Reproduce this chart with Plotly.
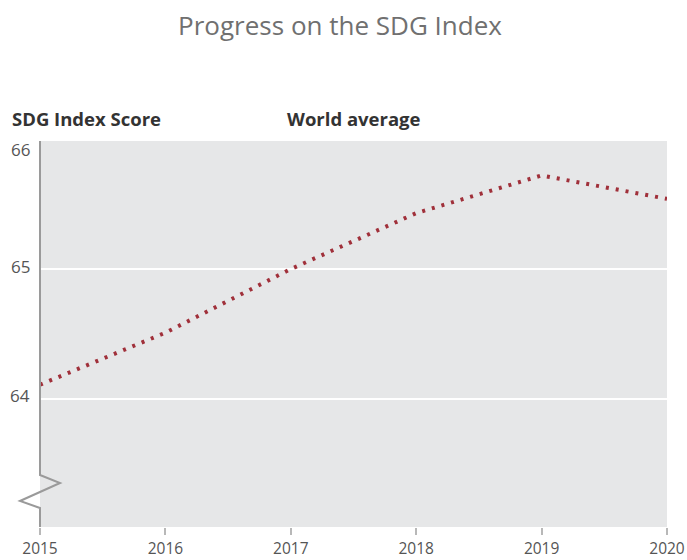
import plotly.graph_objects as go

years = [2015, 2016, 2017, 2018, 2019, 2020]
scores = [64.11, 64.51, 65.00, 65.43, 65.72, 65.54]
y_ticks = [64, 65, 66]
y_tick_labels = ["64", "65", "66"]
x_tick_labels = ["2015", "2016", "2017", "2018", "2019", "2020"]

W, H = 687, 560
PL, PR, PT, PB = 40, 667, 141, 527          # plot box in px
ML, MR, MT, MB = PL, W - PR, PT, H - PB
pw, ph = PR - PL, PB - PT
YR = [63.015, 65.985]

FONT = "Open Sans, sans-serif"

fig = go.Figure()
fig.add_trace(go.Scatter(
    x=years, y=scores, mode="lines",
    line=dict(color="#a0303a", width=4, dash="3px,7px"),
    hoverinfo="skip", showlegend=False,
))

# y tick labels
for v, t in zip(y_ticks, y_tick_labels):
    if v > YR[1]:
        fig.add_annotation(x=0, xref="paper", y=1, yref="paper", text=t,
                           showarrow=False, xanchor="right", yanchor="top",
                           xshift=-8, yshift=5,
                           font=dict(family=FONT, size=17, color="#555555"))
    else:
        fig.add_annotation(x=0, xref="paper", y=v, yref="y", text=t,
                           showarrow=False, xanchor="right", yanchor="middle",
                           xshift=-8, yshift=3,
                           font=dict(family=FONT, size=17, color="#555555"))

hy = 1 + (PT - 118) / ph
fig.add_annotation(x=(10 - PL) / pw, xref="paper", y=hy, yref="paper",
                   text="<b>SDG Index Score</b>", showarrow=False,
                   xanchor="left", yanchor="middle",
                   font=dict(family=FONT, size=18.5, color="#333333"))
fig.add_annotation(x=(285 - PL) / pw, xref="paper", y=hy, yref="paper",
                   text="<b>World average</b>", showarrow=False,
                   xanchor="left", yanchor="middle",
                   font=dict(family=FONT, size=18.5, color="#333333"))

# axis line with break zigzag
def py(pix):
    return (PB - pix) / ph
def px(off):
    return off / pw
path = (f"M 0,1 L 0,{py(475):.4f} L {px(20):.4f},{py(483):.4f} "
        f"L {px(-20):.4f},{py(501):.4f} L 0,{py(508):.4f} L 0,0")
fig.add_shape(type="path", xref="paper", yref="paper", path=path,
              line=dict(color="#9a9a9a", width=2), layer="above")

fig.update_layout(
    width=W, height=H,
    margin=dict(l=ML, r=MR, t=MT, b=MB, pad=0, autoexpand=False),
    paper_bgcolor="white", plot_bgcolor="#e6e7e8",
    title=dict(text="Progress on the SDG Index", x=340 / W, xanchor="center",
               y=1 - 26 / H, yanchor="middle",
               font=dict(family=FONT, size=26, color="#707070")),
    xaxis=dict(range=[years[0], years[-1]], tickvals=years, ticktext=x_tick_labels,
               showgrid=False, zeroline=False, showline=False, automargin=False,
               ticks="outside", ticklen=7, tickcolor="#b8b8b8", tickwidth=1.5,
               tickfont=dict(family=FONT, size=15.5, color="#555555")),
    yaxis=dict(range=YR, tickvals=y_ticks, showticklabels=False, automargin=False,
               showgrid=True, gridcolor="white", gridwidth=2,
               zeroline=False, showline=False, ticks=""),
)

fig.write_html(
    "out.html",
    config={"displayModeBar": False},
    post_script="document.body.style.margin='0';document.body.style.overflow='hidden';",
)
